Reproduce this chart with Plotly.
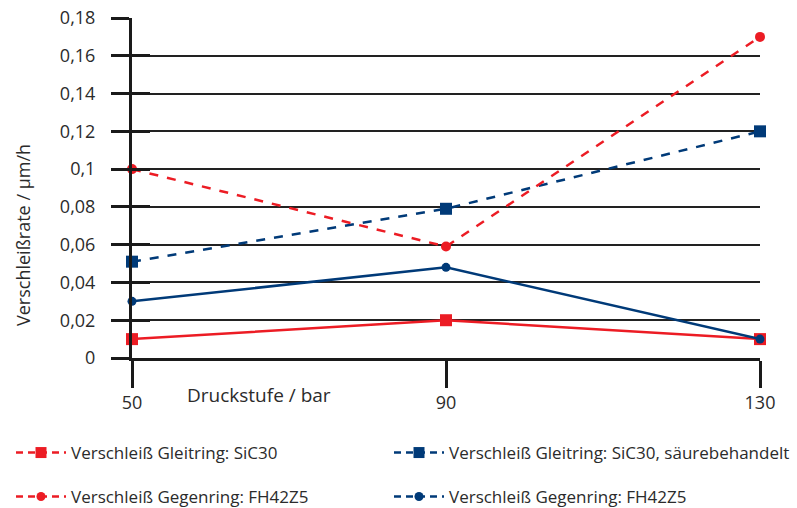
import plotly.graph_objects as go

# Pressure stages (bar)
druckstufen = [50, 90, 130]

# Wear rates in µm/h
gleitring_sic30 = [0.01, 0.02, 0.01]
gegenring_rot = [0.1, 0.059, 0.17]
gleitring_saeure = [0.051, 0.079, 0.12]
gegenring_blau = [0.03, 0.048, 0.01]

y_ticks = [0, 0.02, 0.04, 0.06, 0.08, 0.1, 0.12, 0.14, 0.16, 0.18]
y_tick_text = ["0", "0,02", "0,04", "0,06", "0,08", "0,1", "0,12", "0,14", "0,16", "0,18"]

name_gleit = "Verschleiß Gleitring: SiC30"
name_gleit_s = "Verschleiß Gleitring: SiC30, säurebehandelt"
name_gegen = "Verschleiß Gegenring: FH42Z5"

RED = "#ec1c24"
BLUE = "#003a78"
FONT = "Open Sans"
TXT = "#2b2b2b"
W, H = 797, 508

fig = go.Figure()

series = [
    (gleitring_sic30, RED, "square", 12, "solid"),
    (gegenring_blau, BLUE, "circle", 9, "solid"),
    (gleitring_saeure, BLUE, "square", 12, "dash"),
    (gegenring_rot, RED, "circle", 10, "dash"),
]
for vals, col, sym, size, dash in series:
    fig.add_trace(go.Scatter(
        x=druckstufen, y=vals, mode="lines+markers",
        line=dict(color=col, width=2.5, dash=dash),
        marker=dict(color=col, symbol=sym, size=size),
        cliponaxis=False, showlegend=False, hoverinfo="skip",
    ))

# Legend keys (all drawn dashed), one legend box per entry: (name, colour, symbol, size, left px, centre px)
legend_items = [
    (name_gleit, RED, "square", 11, 11, 453),
    (name_gleit_s, BLUE, "square", 11, 389, 453),
    (name_gegen, RED, "circle", 9, 11, 497),
    (name_gegen, BLUE, "circle", 9, 389, 497),
]
legend_layouts = {}
for i, (name, col, sym, size, lx, ly) in enumerate(legend_items):
    key = "legend" if i == 0 else f"legend{i + 1}"
    fig.add_trace(go.Scatter(
        x=[None], y=[None], mode="lines+markers", name=name,
        line=dict(color=col, width=2.5, dash="7px,5px"),
        marker=dict(color=col, symbol=sym, size=size),
        legend=key,
    ))
    legend_layouts[key] = dict(
        orientation="h", xref="container", yref="container",
        x=lx / W, y=1 - ly / H, xanchor="left", yanchor="middle",
        itemwidth=50,
        font=dict(family=FONT, size=17, color=TXT),
        bgcolor="rgba(0,0,0,0)",
    )

fig.update_layout(
    width=W, height=H,
    margin=dict(l=132, r=37, t=18, b=150, autoexpand=False),
    paper_bgcolor="white", plot_bgcolor="white",
    font=dict(family=FONT, size=17, color=TXT),
    xaxis=dict(
        range=[50, 130], tickvals=druckstufen,
        ticktext=[str(v) for v in druckstufen],
        showgrid=False, zeroline=False,
        showline=True, linecolor="#1a1a1a", linewidth=2.5,
        ticks="outside", ticklen=27, tickwidth=2.5, tickcolor="#1a1a1a",
        tickfont=dict(family=FONT, size=18, color=TXT),
    ),
    yaxis=dict(
        range=[0, 0.18], tickvals=y_ticks, ticktext=y_tick_text,
        showgrid=True, gridcolor="#222222", gridwidth=1.5,
        zeroline=False,
        showline=True, linecolor="#1a1a1a", linewidth=3,
        ticks="outside", ticklen=18, tickwidth=3, tickcolor="#1a1a1a",
        ticklabelstandoff=12,
        tickfont=dict(family=FONT, size=18, color=TXT),
    ),
    yaxis2=dict(
        overlaying="y", matches="y", anchor="x", side="left",
        tickvals=y_ticks, showticklabels=False, showgrid=False, zeroline=False,
        ticks="inside", ticklen=18, tickwidth=3, tickcolor="#1a1a1a",
    ),
    annotations=[
        dict(
            text="Druckstufe / bar", xref="paper", yref="paper",
            x=(185 - 132) / 628, y=(358 - 395) / 340, xanchor="left", yanchor="middle",
            showarrow=False, font=dict(family=FONT, size=19, color=TXT),
        ),
        dict(
            text="Verschleißrate / µm/h", xref="paper", yref="paper", textangle=-90,
            x=(23 - 132) / 628, y=(358 - 235) / 340, xanchor="center", yanchor="middle",
            showarrow=False, font=dict(family=FONT, size=18, color=TXT),
        ),
    ],
    **legend_layouts,
)

# empty trace on the secondary axis so its inside ticks are rendered
fig.add_trace(go.Scatter(x=[None], y=[None], yaxis="y2", showlegend=False, hoverinfo="skip"))

fig.write_html("out.html")
